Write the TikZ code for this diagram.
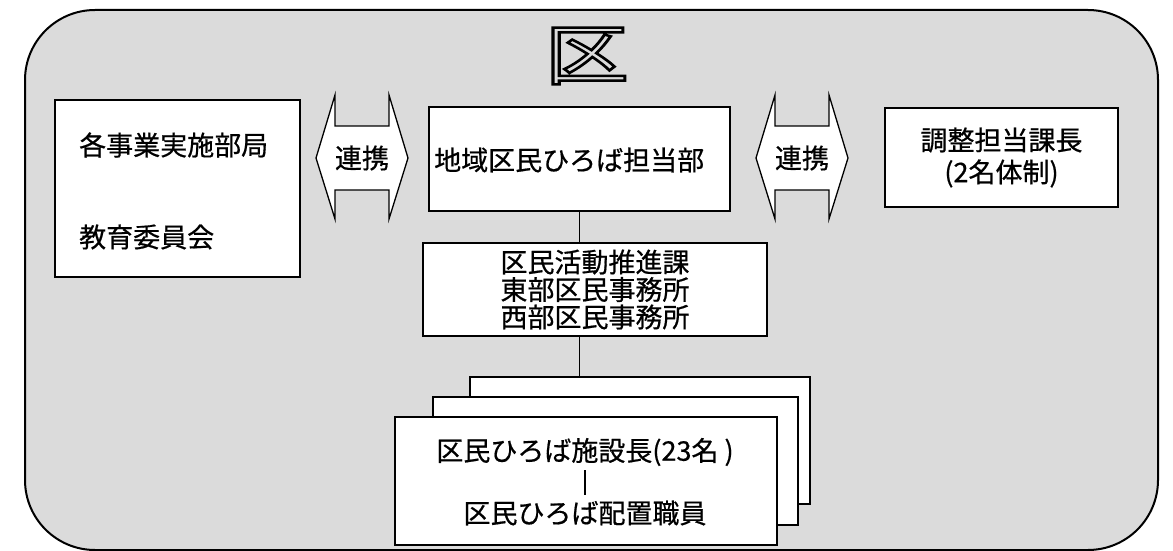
\documentclass[tikz,border=0pt]{standalone}
\usepackage{fontspec}
\setmainfont{Noto Sans CJK JP}[FakeBold=0.6]
\newfontfamily\titlefont{Noto Sans CJK JP}
\begin{document}
\begin{tikzpicture}[x=1pt,y=-1pt,
  box/.style={draw, line width=1.4pt, fill=white, inner sep=0pt},
  txt/.style={font=\fontsize{27}{32}\selectfont, inner sep=0pt},
  conn/.style={line width=1.2pt},
  linkarrow/.pic={\draw[fill=white, line width=1.3pt, line join=miter]
     (-46,0) -- (-27,-63) -- (-27,-32) -- (27,-32) -- (27,-63) -- (46,0)
     -- (27,61) -- (27,32) -- (-27,32) -- (-27,61) -- cycle;}]
\useasboundingbox (0,0) rectangle (1173,551);
% outer region
\draw[line width=2pt, fill=black!14, rounded corners=70pt] (25,10) rectangle (1158,550);
% title glyph
\node[inner sep=0pt, xscale=1.27, font=\titlefont\fontsize{66}{66}\selectfont] (title) at (587,56)
  {\special{pdf:literal 1 Tr 2.4 w}区\special{pdf:literal 0 Tr}};
% left box
\node[box, minimum width=245pt, minimum height=177pt] (L) at (177.5,188.5) {};
\node[txt, anchor=west] (L1) at (79,145) {各事業実施部局};
\node[txt, anchor=west] (L2) at (79,237) {教育委員会};
% centre box
\node[box, minimum width=301pt, minimum height=104pt] (C) at (579.5,159) {};
\node[txt, anchor=west] (Ct) at (434,160) {地域区民ひろば担当部};
% right box
\node[box, minimum width=233pt, minimum height=99pt, align=center,
      font=\fontsize{27}{32}\selectfont] (R) at (1001.5,157.5) {調整担当課長\\(2名体制)};
% link arrows
\pic at (362,158) {linkarrow};
\node[txt] (A1) at (362,158) {連携};
\pic at (802,158) {linkarrow};
\node[txt] (A2) at (802,158) {連携};
% middle box
\node[box, minimum width=344pt, minimum height=93pt, align=center,
      font=\fontsize{27}{27.5}\selectfont] (M) at (595,289.5)
  {区民活動推進課\\東部区民事務所\\西部区民事務所};
% stacked boxes
\node[box, minimum width=340pt, minimum height=127pt] (B3) at (640,440.5) {};
\node[box, minimum width=365pt, minimum height=128pt] (B2) at (615.5,461) {};
\node[box, minimum width=382pt, minimum height=128pt] (B1) at (586,481) {};
\node[txt] (T1) at (585,452) {区民ひろば施設長(23名 )};
\node[txt] (T2) at (585,513) {区民ひろば配置職員};
% connectors
\draw[conn] (C.south) -- (C.south |- M.north);
\draw[conn] (C.south |- M.south) -- (C.south |- B3.north);
\draw[conn, shorten <=4pt, shorten >=5pt] (T1.south -| T2) -- (T2.north);
\end{tikzpicture}
\end{document}
